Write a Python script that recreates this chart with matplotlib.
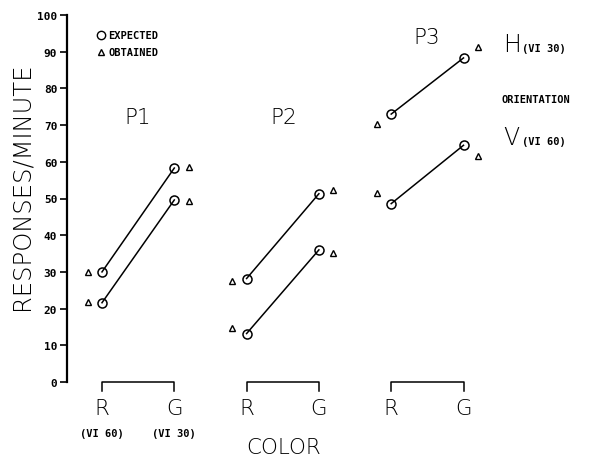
import matplotlib
matplotlib.use("Agg")
import matplotlib.pyplot as plt
from matplotlib.lines import Line2D

# ---- data ----
panels = ["P1", "P2", "P3"]
colors = ["R", "G"]
color_sub = ["(VI 60)", "(VI 30)"]
expected_H_R = [30, 28.2, 73]
expected_H_G = [58.3, 51.3, 88.3]
expected_V_R = [21.6, 13.2, 48.6]
expected_V_G = [49.6, 36, 64.5]
obtained_H_R = [30, 27.4, 70.2]
obtained_H_G = [58.7, 52.4, 91.4]
obtained_V_R = [21.9, 14.6, 51.6]
obtained_V_G = [49.4, 35.1, 61.6]
yticks = [0, 10, 20, 30, 40, 50, 60, 70, 80, 90, 100]

W, H = 589, 460
fig = plt.figure(figsize=(W / 100, H / 100), dpi=100)
# axes: x pixel 67 -> right edge; y: 0 at px 383, 100 at px 16
ax = fig.add_axes([67 / W, 1 - 383 / H, (W - 67) / W, (383 - 16) / H])
x0, xs = 102, 72.3  # pixel of first R, pixel step
ax.set_xlim((67 - x0) / xs, (W - x0) / xs)
ax.set_ylim(0, 100)

def px(x):
    return (x - x0) / xs

def py(y):
    return (383 - y) / 3.67

off = 0.2
lw = 1.1
for i, p in enumerate(panels):
    xr, xg = 2 * i, 2 * i + 1
    for er, eg in [(expected_H_R[i], expected_H_G[i]), (expected_V_R[i], expected_V_G[i])]:
        ax.plot([xr, xg], [er, eg], color="black", lw=lw, marker="o", ms=6.5,
                mfc="none", mec="black", mew=1.1, clip_on=False, zorder=3)
    ax.plot([xr - off, xr - off, xg + off, xg + off],
            [obtained_H_R[i], obtained_V_R[i], obtained_H_G[i], obtained_V_G[i]],
            ls="none", marker="^", ms=5, mfc="none", mec="black", mew=1.0,
            clip_on=False, zorder=3)
    # bracket
    ax.plot([xr, xr, xg, xg], [-2.4, 0, 0, -2.4], color="black", lw=1.1, clip_on=False)
    for j, c in enumerate(colors):
        ax.text([xr, xg][j], py(409), c, ha="center", va="center", fontsize=15.5,
                fontfamily="DejaVu Sans", fontweight="light")

for j, s in enumerate(color_sub):
    ax.text(j, py(434), s, ha="center", va="center", fontsize=7.5,
            fontfamily="DejaVu Sans Mono", fontweight="bold")

# panel titles
title_pos = [(138, 118), (284, 118), (427, 38)]
for p, (tx, ty) in zip(panels, title_pos):
    ax.text(px(tx), py(ty), p, ha="center", va="center", fontsize=15.5,
            fontfamily="DejaVu Sans", fontweight="light")

ax.text(px(284), py(448), "COLOR", ha="center", va="center", fontsize=15.5,
        fontfamily="DejaVu Sans", fontweight="light")

# orientation labels
ax.text(px(503), py(45), "H", ha="left", va="center", fontsize=17, fontweight="light")
ax.text(px(522), py(49), "(VI 30)", ha="left", va="center", fontsize=7.5,
        fontfamily="DejaVu Sans Mono", fontweight="bold")
ax.text(px(501), py(100), "ORIENTATION", ha="left", va="center", fontsize=7.5,
        fontfamily="DejaVu Sans Mono", fontweight="bold")
ax.text(px(503), py(138), "V", ha="left", va="center", fontsize=17, fontweight="light")
ax.text(px(522), py(142), "(VI 60)", ha="left", va="center", fontsize=7.5,
        fontfamily="DejaVu Sans Mono", fontweight="bold")

# legend
handles = [Line2D([], [], ls="none", marker="o", ms=6, mfc="none", mec="black"),
           Line2D([], [], ls="none", marker="^", ms=5, mfc="none", mec="black")]
leg = ax.legend(handles, ["EXPECTED", "OBTAINED"], loc="upper left",
                bbox_to_anchor=((94 - 67) / (W - 67), (383 - 27) / (383 - 16)),
                frameon=False, handlelength=0.6, handletextpad=0.4,
                labelspacing=0.7, borderaxespad=0,
                prop={"family": "DejaVu Sans Mono", "weight": "bold", "size": 7.5})

# axis styling
for s in ["top", "right", "bottom"]:
    ax.spines[s].set_visible(False)
ax.spines["left"].set_linewidth(1.6)
ax.set_xticks([])
ax.set_yticks(yticks)
ax.tick_params(axis="y", direction="out", length=5, width=1.2, pad=2)
for lab in ax.get_yticklabels():
    lab.set_fontfamily("DejaVu Sans Mono")
    lab.set_fontweight("bold")
    lab.set_fontsize(8)
ax.set_ylabel("RESPONSES/MINUTE", fontsize=17.5, fontweight="light",
              fontfamily="DejaVu Sans", va="center")
ax.yaxis.set_label_coords(-(67 - 22) / (W - 67), (383 - 186) / (383 - 16))

fig.savefig("out.png", dpi=100)
